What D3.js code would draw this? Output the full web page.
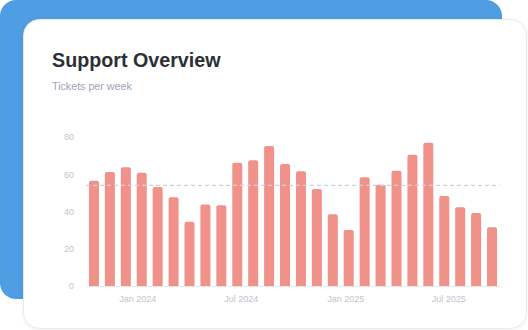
<!DOCTYPE html>
<html>
<head>
<meta charset="utf-8">
<script src="https://cdn.jsdelivr.net/npm/d3@7"></script>
<style>
  html, body { margin: 0; padding: 0; background: #ffffff; }
  svg { display: block; font-family: "Liberation Sans", Arial, Helvetica, sans-serif; }
</style>
</head>
<body>
<script>
// ---- data ----
const startDate = "2023-10-17";
const stepDays = 28;
const tickets = [56.5, 61.2, 63.7, 60.8, 53.2, 47.6, 34.5, 43.7, 43.3, 66.2, 67.5, 75.2, 65.5,
                 61.6, 52.1, 38.5, 30.1, 58.4, 54.4, 61.9, 70.5, 76.9, 48.3, 42.3, 39.2, 31.5];
const yTicks = [0, 20, 40, 60, 80];
const xTickDates = ["2024-01-01", "2024-07-01", "2025-01-01", "2025-07-01"];
const title = "Support Overview";
const subtitle = "Tickets per week";

const W = 528, H = 330;
const parse = d3.utcParse("%Y-%m-%d");
const d0 = parse(startDate);
const dates = tickets.map((_, i) => d3.utcDay.offset(d0, i * stepDays));
const data = tickets.map((v, i) => ({ date: dates[i], value: v }));

const svg = d3.select("body").append("svg").attr("width", W).attr("height", H);

const defs = svg.append("defs");
const f = defs.append("filter").attr("id", "sh").attr("x", "-10%").attr("y", "-10%").attr("width", "120%").attr("height", "120%");
f.append("feDropShadow").attr("dx", 0).attr("dy", 1).attr("stdDeviation", 2).attr("flood-color", "#000").attr("flood-opacity", 0.06);

// background blue card
svg.append("rect").attr("x", 0).attr("y", 0).attr("width", 502).attr("height", 299)
  .attr("rx", 16).attr("fill", "#4f9de2");
// white card
svg.append("rect").attr("x", 23.5).attr("y", 19.5).attr("width", 503).attr("height", 309)
  .attr("rx", 16).attr("fill", "#ffffff").attr("stroke", "#e8eaee").attr("stroke-width", 1)
  .attr("filter", "url(#sh)");

svg.append("text").attr("x", 52).attr("y", 66.5).text(title)
  .attr("font-size", 19.7).attr("font-weight", 700).attr("fill", "#2b2f36");
svg.append("text").attr("x", 52).attr("y", 89.5).text(subtitle)
  .attr("font-size", 10.7).attr("fill", "#9ea4b3");

const x = d3.scaleUtc()
  .domain([d3.utcDay.offset(dates[0], -14), d3.utcDay.offset(dates[dates.length - 1], 14)])
  .range([86, 500]);
const y = d3.scaleLinear().domain([0, 80]).range([286, 137]);

const barW = 10;

// y axis labels
const ya = svg.append("g").attr("transform", "translate(74,0)")
  .call(d3.axisLeft(y).tickValues(yTicks).tickSize(0).tickPadding(0));
ya.select(".domain").remove();
ya.selectAll("text").attr("font-size", 9).attr("fill", "#c0c5d0")
  .attr("font-family", "'Liberation Sans', Arial, sans-serif");

// bars
const r = 2;
svg.append("g").selectAll("path").data(data).join("path")
  .attr("fill", "#f0918a")
  .attr("d", d => {
    const cx = x(d.date), x0 = cx - barW / 2, x1 = cx + barW / 2;
    const yt = y(d.value), yb = y(0);
    return `M${x0},${yb}V${yt + r}Q${x0},${yt} ${x0 + r},${yt}H${x1 - r}Q${x1},${yt} ${x1},${yt + r}V${yb}Z`;
  });

// baseline axis
const xa = svg.append("g").attr("transform", `translate(0,${y(0)})`)
  .call(d3.axisBottom(x).tickValues(xTickDates.map(parse)).tickFormat(d3.utcFormat("%b %Y")).tickSize(0).tickPadding(10));
xa.select(".domain").attr("stroke", "#e3e6eb").attr("stroke-width", 1.2);
xa.selectAll("text").attr("font-size", 9).attr("fill", "#c0c5d0")
  .attr("font-family", "'Liberation Sans', Arial, sans-serif");

// average dashed line
const avg = d3.mean(tickets);
svg.append("line").attr("x1", 86).attr("x2", 500).attr("y1", y(avg)).attr("y2", y(avg))
  .attr("stroke", "#cdd1d9").attr("stroke-width", 1.3).attr("stroke-dasharray", "4,3");
</script>
</body>
</html>
